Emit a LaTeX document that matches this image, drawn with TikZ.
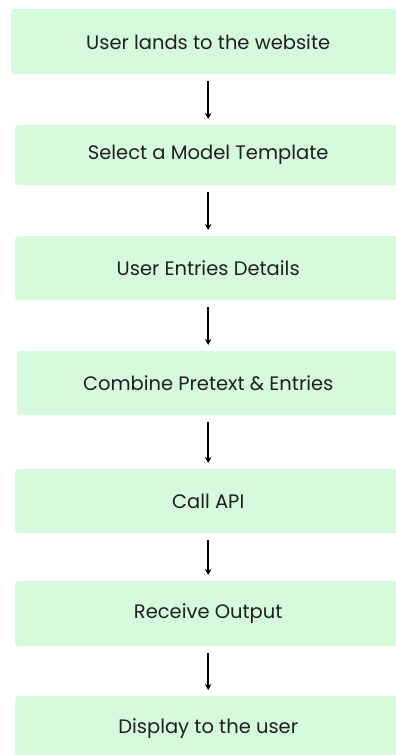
\documentclass[tikz,border=0pt]{standalone}
\usepackage{fontspec}
\setmainfont{Poppins}
\usetikzlibrary{arrows.meta}
\definecolor{boxgreen}{RGB}{214,250,220}
\tikzset{
  x=1pt, y=-1pt,
  stepbox/.style={fill=boxgreen, draw=none, rounded corners=3pt, anchor=north west, inner sep=0pt,
    minimum height=64pt, font=\fontsize{19.5}{22}\selectfont, text=black!88},
  flow/.style={line width=1.6pt, -{Stealth[length=6pt,width=6.5pt]}, shorten >=6pt, shorten <=7pt}
}
\begin{document}
\begin{tikzpicture}
\useasboundingbox (0,0) rectangle (396,755);
\clip (0,0) rectangle (396,755);
\node[stepbox, minimum width=394pt, minimum height=65pt] (b1) at (11,9) {User lands to the website};
\node[stepbox, minimum width=386pt, minimum height=60pt] (b2) at (15,125) {Select a Model Template};
\node[stepbox, minimum width=386pt] (b3) at (15,236) {User Entries Details};
\node[stepbox, minimum width=382pt] (b4) at (17,351) {Combine Pretext \& Entries};
\node[stepbox, minimum width=386pt] (b5) at (15,469) {Call API};
\node[stepbox, minimum width=386pt, minimum height=65pt] (b6) at (15,581) {Receive Output};
\node[stepbox, minimum width=386pt] (b7) at (15,696) {Display to the user};
\foreach \a/\b in {b1/b2,b2/b3,b3/b4,b4/b5,b5/b6,b6/b7}
  \draw[flow] (\a.south) -- (\b.north);
\end{tikzpicture}
\end{document}
